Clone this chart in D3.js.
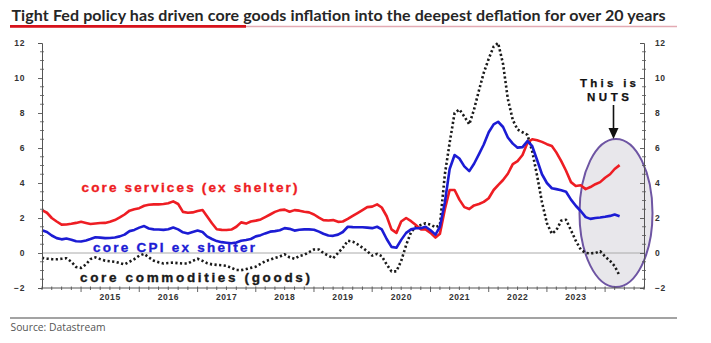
<!DOCTYPE html>
<html>
<head>
<meta charset="utf-8">
<script src="https://cdn.jsdelivr.net/npm/d3@7"></script>
<style>
  html, body { margin: 0; padding: 0; background: #fff; }
  svg { display: block; }
</style>
</head>
<body>
<svg id="chart" width="711" height="343"></svg>
<script>
// ---------- DATA ----------
const startMonth = "2014-05";          // first monthly observation
const endMonth   = "2024-04";          // last monthly observation
const yearLabels = ["2015","2016","2017","2018","2019","2020","2021","2022","2023"];
const yTicks = [-2, 0, 2, 4, 6, 8, 10, 12];

// core services (ex shelter), % y/y, monthly May 2014 .. Apr 2024
const coreServicesExShelter = [
  2.45,2.3,2.0,1.8,1.62,1.63,1.67,1.72,
  1.78,1.72,1.66,1.69,1.71,1.72,1.78,1.88,2.03,2.2,2.42,2.5,
  2.56,2.7,2.76,2.78,2.78,2.8,2.84,2.95,2.8,2.35,2.3,2.32,
  2.4,2.46,2.1,1.7,1.36,1.32,1.31,1.34,1.5,1.75,1.68,1.8,
  1.85,1.92,2.05,2.2,2.35,2.45,2.48,2.36,2.45,2.42,2.36,2.32,
  2.2,2.02,1.88,1.86,1.88,1.78,1.8,1.95,2.12,2.28,2.45,2.62,
  2.65,2.78,2.6,2.1,1.35,1.15,1.8,2.0,1.82,1.6,1.35,1.35,
  1.15,0.88,1.1,2.5,3.6,3.6,3.05,2.62,2.51,2.72,2.8,2.92,
  3.13,3.6,3.88,4.17,4.53,5.08,5.25,5.6,6.3,6.5,6.44,6.35,
  6.22,6.12,5.75,5.25,4.7,4.05,3.83,3.87,3.65,3.77,3.93,4.05,
  4.3,4.5,4.8,5.02
];

// core CPI ex shelter, % y/y
const coreCpiExShelter = [
  1.3,1.2,1.0,0.85,0.78,0.83,0.76,0.67,
  0.66,0.72,0.8,0.9,0.88,0.85,0.86,0.89,0.95,1.05,1.25,1.32,
  1.45,1.54,1.4,1.35,1.34,1.32,1.36,1.46,1.35,1.18,1.12,1.2,
  1.28,1.2,0.95,0.8,0.68,0.62,0.59,0.56,0.6,0.7,0.74,0.8,
  0.95,1.02,1.12,1.22,1.25,1.3,1.42,1.38,1.28,1.33,1.35,1.35,
  1.33,1.22,1.1,1.0,0.98,1.05,1.2,1.5,1.48,1.47,1.47,1.45,
  1.42,1.5,1.35,0.8,0.35,0.3,0.75,1.15,1.35,1.41,1.42,1.5,
  1.3,1.05,1.5,2.9,4.8,5.6,5.4,4.95,4.68,5.1,5.65,6.2,
  6.9,7.35,7.5,7.2,6.6,6.25,6.02,6.05,6.4,6.1,5.3,4.5,
  4.0,3.7,3.65,3.58,3.5,3.05,2.7,2.4,2.05,1.95,2.0,2.03,
  2.07,2.12,2.2,2.1
];

// core commodities (goods), % y/y
const coreCommodities = [
  -0.28,-0.32,-0.35,-0.36,-0.33,-0.3,-0.5,-0.8,
  -0.85,-0.65,-0.35,-0.25,-0.35,-0.44,-0.47,-0.5,-0.58,-0.65,-0.5,-0.35,
  -0.15,-0.05,-0.25,-0.44,-0.53,-0.6,-0.57,-0.55,-0.58,-0.6,-0.6,-0.45,
  -0.33,-0.45,-0.58,-0.65,-0.68,-0.7,-0.73,-0.85,-0.97,-0.98,-0.92,-0.85,
  -0.78,-0.62,-0.47,-0.38,-0.28,-0.2,-0.07,-0.25,-0.33,-0.17,-0.1,0.05,
  0.2,0.2,0.0,-0.15,-0.3,0.0,0.3,0.7,0.65,0.5,0.3,0.1,
  -0.15,-0.05,-0.18,-0.65,-1.05,-1.05,-0.45,0.45,1.2,1.5,1.6,1.7,
  1.62,1.47,1.6,4.5,6.3,8.0,8.2,7.8,7.35,8.2,9.3,10.3,
  11.1,11.8,12.0,10.8,8.8,7.6,7.05,6.9,6.75,5.8,4.4,2.9,
  1.7,1.1,1.3,1.85,1.9,1.3,0.7,0.2,0.0,-0.02,0.0,0.1,
  -0.2,-0.45,-0.75,-1.3
];

const titleText = "Tight Fed policy has driven core goods inflation into the deepest deflation for over 20 years";
const sourceText = "Source: Datastream";
const labelServices = "core services (ex shelter)";
const labelCpi = "core CPI ex shelter";
const labelGoods = "core commodities (goods)";
const noteLines = ["This is", "NUTS"];

// ---------- SETUP ----------
const svg = d3.select("#chart");
const parseM = d3.timeParse("%Y-%m");
const months = d3.timeMonth.range(parseM(startMonth), d3.timeMonth.offset(parseM(endMonth), 1));

const plot = { left: 42, right: 644, top: 43, bottom: 288 };
const x = d3.scaleTime()
  .domain([new Date(2014, 4, 1), new Date(2024, 8, 1)])
  .range([plot.left, plot.right]);
const y = d3.scaleLinear().domain([-2, 12]).range([plot.bottom, plot.top]);

const RED = "#ee1d23", BLUE = "#1c1cd4", BLACK = "#1a1a1a";

// ---------- TITLE ----------
const title = svg.append("text")
  .attr("x", 11.5).attr("y", 21)
  .attr("font-family", "Lato, 'Open Sans', sans-serif")
  .attr("font-weight", 700)
  .attr("font-size", 16)
  .attr("fill", "#262626")
  .text(titleText);
{
  const targetW = 654;
  const w = title.node().getComputedTextLength();
  if (w > targetW) title.attr("font-size", 16 * targetW / w);
  title.attr("textLength", targetW).attr("lengthAdjust", "spacing");
}
svg.append("line").attr("x1", 10).attr("x2", 677).attr("y1", 26.5).attr("y2", 26.5)
  .attr("stroke", "#e3aab3").attr("stroke-width", 1.5);
svg.append("line").attr("x1", 10).attr("x2", 246).attr("y1", 26.3).attr("y2", 26.3)
  .attr("stroke", "#d7121b").attr("stroke-width", 2.8);

// ---------- FOOTER ----------
svg.append("line").attr("x1", 10).attr("x2", 677).attr("y1", 318).attr("y2", 318)
  .attr("stroke", "#a3a3a3").attr("stroke-width", 2.2);
svg.append("text").attr("x", 10.5).attr("y", 331)
  .attr("font-family", "'Open Sans', sans-serif").attr("font-size", 10.5)
  .attr("fill", "#555").attr("textLength", 95).attr("lengthAdjust", "spacingAndGlyphs")
  .text(sourceText);

// ---------- ELLIPSE HIGHLIGHT ----------
svg.append("ellipse")
  .attr("cx", 616).attr("cy", 213).attr("rx", 36.5).attr("ry", 74)
  .attr("fill", "#e8e7eb").attr("stroke", "#6e55a3").attr("stroke-width", 2);

// zero line
svg.append("line").attr("x1", plot.left).attr("x2", plot.right)
  .attr("y1", y(0)).attr("y2", y(0))
  .attr("stroke", "#aaaaaa").attr("stroke-width", 1);

// ---------- SERIES ----------
const line = d3.line().x(d => x(d.date)).y(d => y(d.v)).curve(d3.curveLinear);
const toPts = arr => arr.map((v, i) => ({ date: months[i], v }));

svg.append("path").datum(toPts(coreCommodities))
  .attr("d", line).attr("fill", "none").attr("stroke", BLACK)
  .attr("stroke-width", 2.6).attr("stroke-dasharray", "2.2,2.4")
  .attr("stroke-linejoin", "round");
svg.append("path").datum(toPts(coreServicesExShelter))
  .attr("d", line).attr("fill", "none").attr("stroke", RED)
  .attr("stroke-width", 2.6).attr("stroke-linejoin", "round");
svg.append("path").datum(toPts(coreCpiExShelter))
  .attr("d", line).attr("fill", "none").attr("stroke", BLUE)
  .attr("stroke-width", 2.6).attr("stroke-linejoin", "round");

// ---------- AXES ----------
const axisCol = "#555";
const tickFont = "'Liberation Sans', Arial, sans-serif";

// left axis
const gl = svg.append("g").attr("transform", `translate(${plot.left},0)`);
gl.call(d3.axisLeft(y).tickValues(yTicks).tickSize(4).tickFormat(d3.format("d")).tickPadding(13));
// right axis
const gr = svg.append("g").attr("transform", `translate(${plot.right},0)`);
gr.call(d3.axisRight(y).tickValues(yTicks).tickSize(-4).tickFormat(d3.format("d")).tickPadding(11));
// minor y ticks
const minorY = d3.range(-2, 12.01, 0.5).filter(v => v % 2 !== 0);
[gl, gr].forEach(g => {
  g.selectAll("line.minor").data(minorY).join("line").attr("class", "minor")
    .attr("x1", -2).attr("x2", 2).attr("y1", d => y(d)).attr("y2", d => y(d))
    .attr("stroke", axisCol).attr("stroke-width", 0.8);
});

// bottom axis
const gb = svg.append("g").attr("transform", `translate(0,${plot.bottom})`);
gb.append("line").attr("x1", plot.left).attr("x2", plot.right).attr("stroke", axisCol).attr("stroke-width", 1);
const tickMonths = d3.timeMonth.every(2).range(new Date(2014, 4, 1), new Date(2024, 8, 2));
gb.selectAll("line.xt").data(tickMonths).join("line").attr("class", "xt")
  .attr("x1", d => x(d)).attr("x2", d => x(d))
  .attr("y1", -1.5).attr("y2", d => d.getMonth() === 0 ? 4 : 2)
  .attr("stroke", axisCol).attr("stroke-width", 0.9);
gb.selectAll("text.yl").data(yearLabels).join("text").attr("class", "yl")
  .attr("x", d => x(new Date(+d, 6, 2)))
  .attr("y", 11.5)
  .attr("text-anchor", "middle")
  .attr("font-family", tickFont).attr("font-weight", 700).attr("font-size", 8.5)
  .attr("letter-spacing", 0.6)
  .attr("fill", "#333").text(d => d);

[gl, gr].forEach(g => {
  g.select(".domain").attr("stroke", axisCol).attr("stroke-width", 1);
  g.selectAll(".tick line").attr("stroke", axisCol).attr("stroke-width", 0.9);
  g.selectAll(".tick text").attr("font-family", tickFont).attr("font-weight", 700)
    .attr("font-size", 8.5).attr("letter-spacing", 0.6).attr("fill", "#333");
});

// ---------- SERIES LABELS ----------
const labFont = "'Liberation Sans', Arial, sans-serif";
function seriesLabel(txt, xx, yy, w, col) {
  svg.append("text").attr("x", xx).attr("y", yy)
    .attr("font-family", labFont).attr("font-weight", 700).attr("font-size", 13.5)
    .attr("fill", col).attr("stroke", col).attr("stroke-width", 0.35)
    .attr("textLength", w).attr("lengthAdjust", "spacing")
    .text(txt);
}
seriesLabel(labelServices, 81.5, 192, 216, RED);
seriesLabel(labelCpi, 93, 251.5, 162, BLUE);
seriesLabel(labelGoods, 80, 281.5, 230, BLACK);

// ---------- ANNOTATION ----------
const noteX = 608;
function note(txt, yy, w) {
  svg.append("text").attr("x", noteX).attr("y", yy).attr("text-anchor", "middle")
    .attr("font-family", labFont).attr("font-weight", 700).attr("font-size", 11.5)
    .attr("fill", "#111").attr("stroke", "#111").attr("stroke-width", 0.25)
    .attr("textLength", w).attr("lengthAdjust", "spacing").text(txt);
}
note(noteLines[0], 87, 56);
note(noteLines[1], 100.5, 42);
svg.append("line").attr("x1", 613.5).attr("x2", 613.5).attr("y1", 105).attr("y2", 130)
  .attr("stroke", "#111").attr("stroke-width", 1.6);
svg.append("path").attr("d", "M608.5,128 L618.5,128 L613.5,139 Z").attr("fill", "#111");
</script>
</body>
</html>
